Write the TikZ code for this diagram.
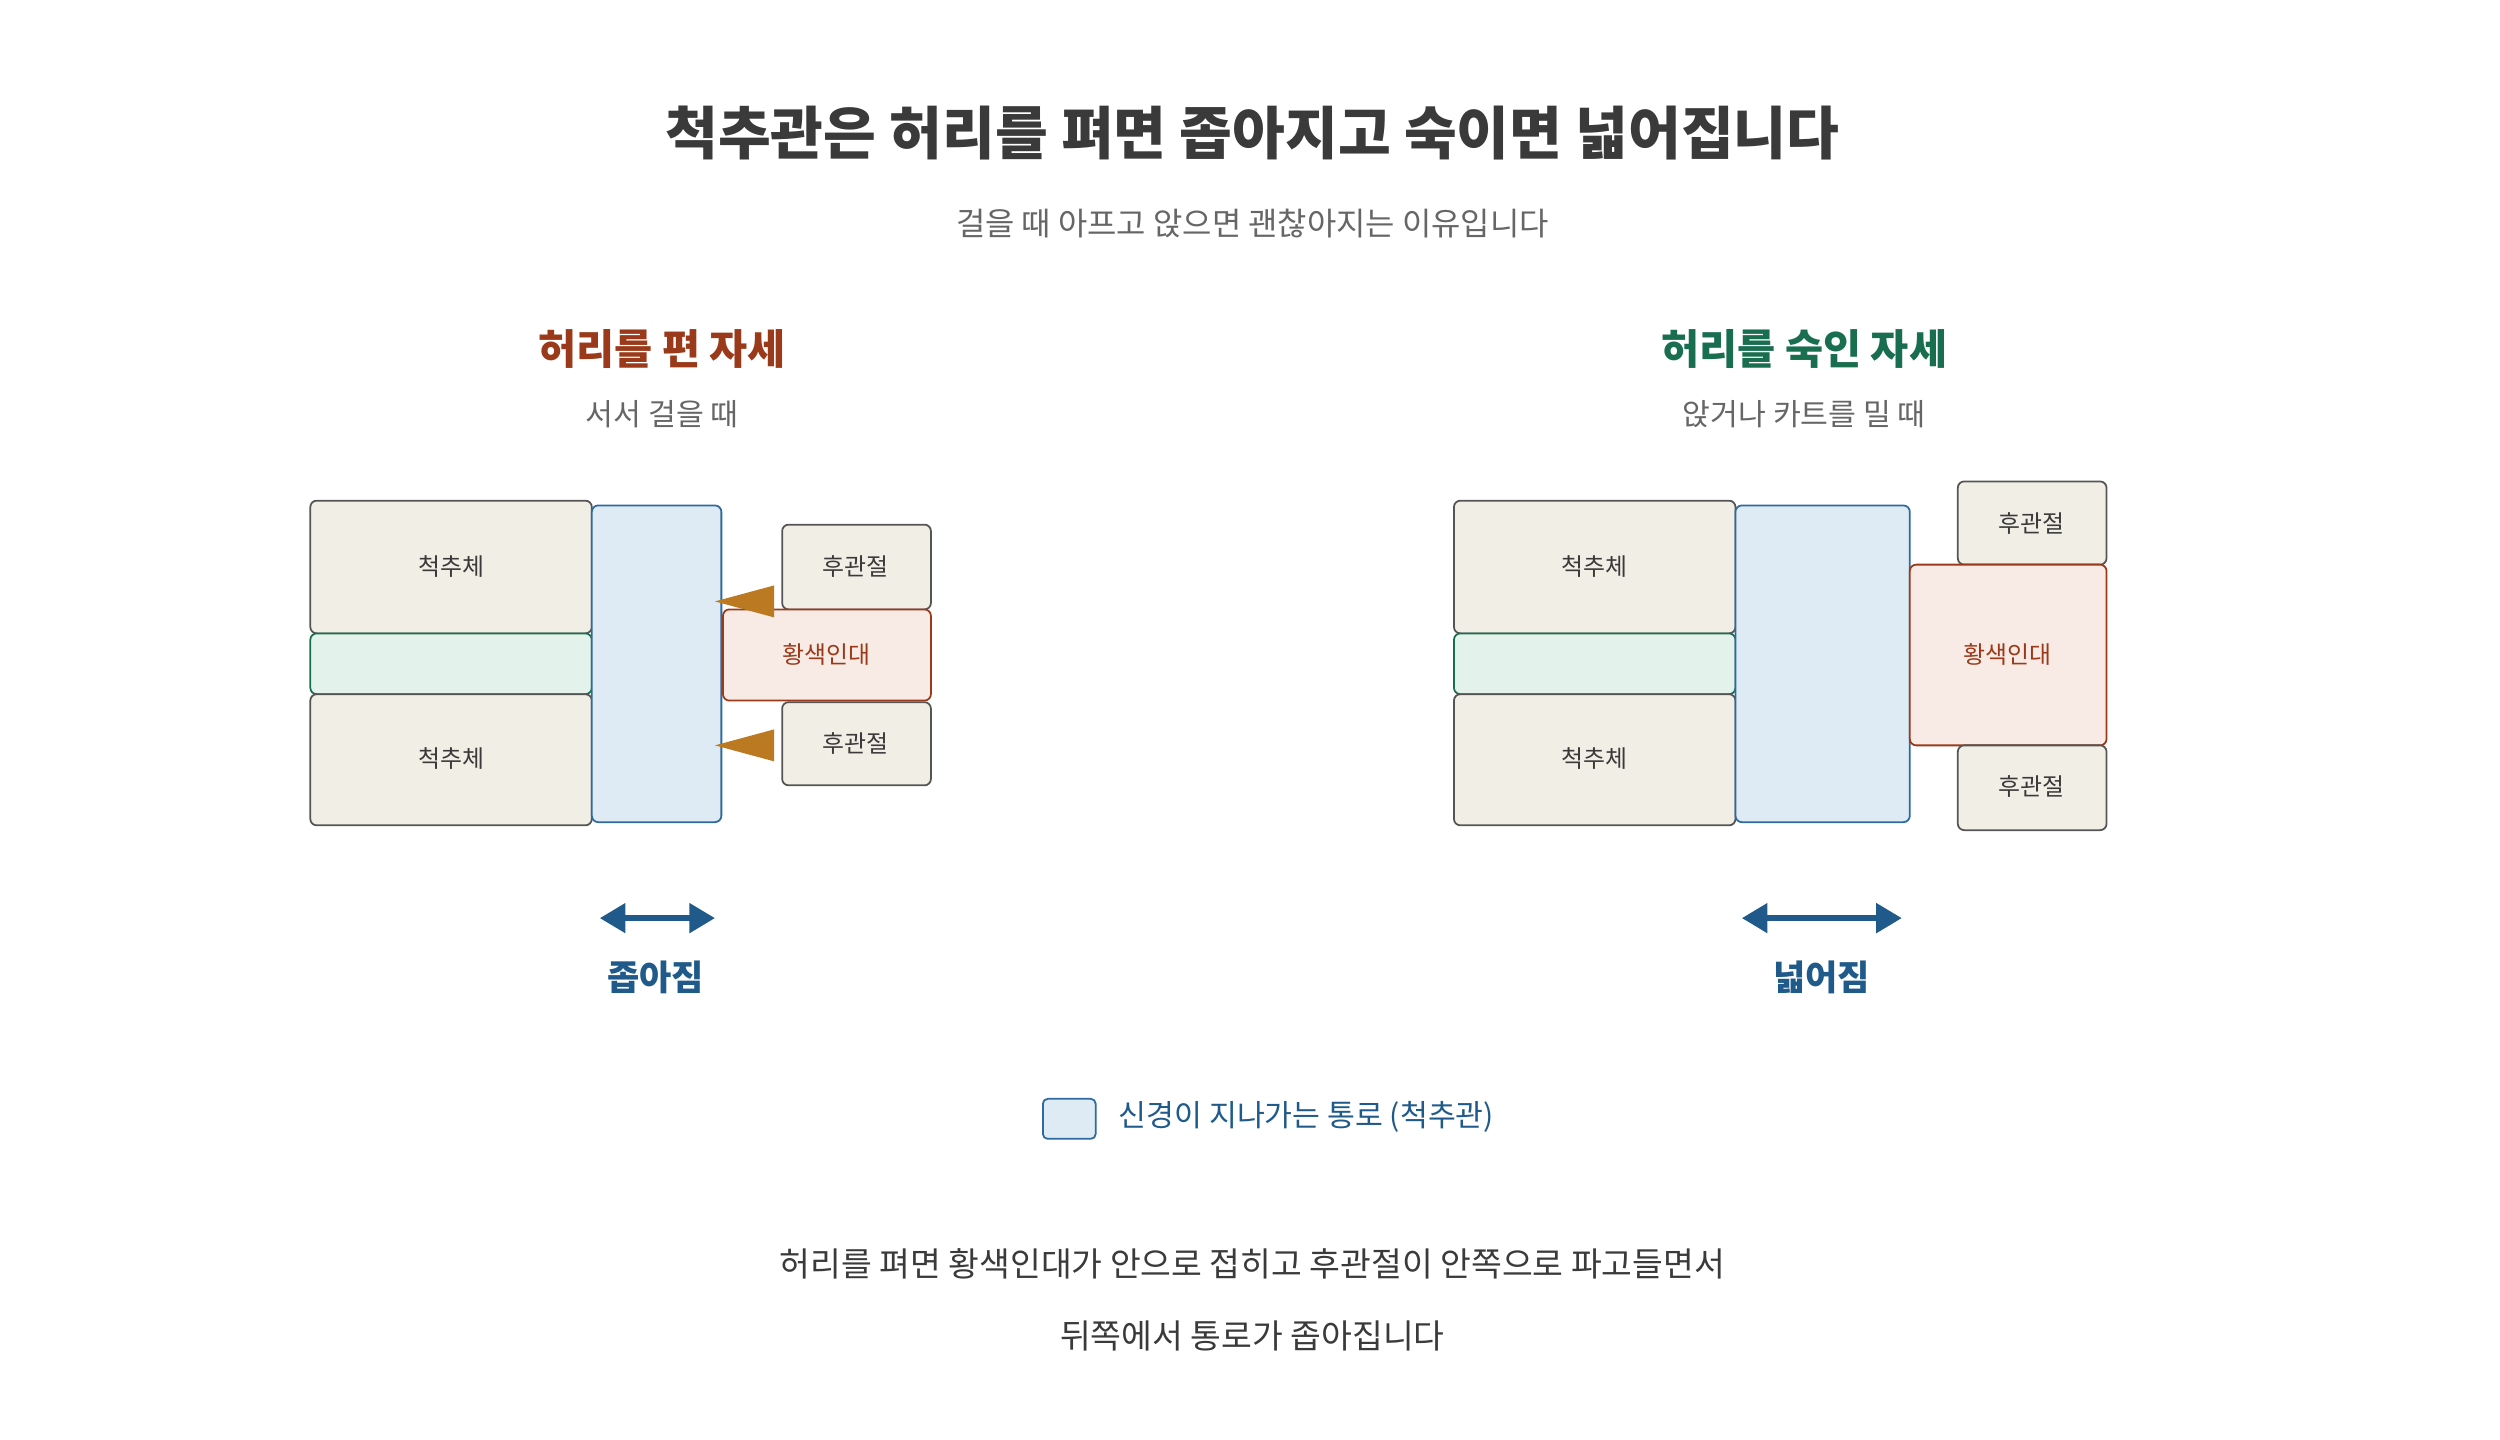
\documentclass[tikz,border=0pt]{standalone}
\usepackage{fontspec}
\setmainfont{Noto Sans CJK KR}
\usetikzlibrary{arrows.meta}
\definecolor{bone}{HTML}{F1EEE6}
\definecolor{boneS}{HTML}{555555}
\definecolor{disc}{HTML}{E3F3EC}
\definecolor{green}{HTML}{1A6E50}
\definecolor{canal}{HTML}{DEEBF5}
\definecolor{canalS}{HTML}{2E6AA0}
\definecolor{lig}{HTML}{F8EBE5}
\definecolor{rust}{HTML}{9A3A1A}
\definecolor{orng}{HTML}{BB7A22}
\definecolor{navy}{HTML}{1F5A8A}
\definecolor{dark}{HTML}{3A3A3A}
\definecolor{gry}{HTML}{666666}
\tikzset{
 box/.style={rounded corners=4bp,line width=1.1bp},
 vert/.style={box,fill=bone,draw=boneS},
 dsc/.style={box,fill=disc,draw=green},
 cnl/.style={box,fill=canal,draw=canalS},
 lg/.style={box,fill=lig,draw=rust},
 lbl/.style={font=\fontsize{15}{18}\selectfont,text=dark},
 head/.style={font=\fontsize{26}{30}\selectfont\bfseries},
 sub/.style={font=\fontsize{19}{22}\selectfont,text=gry},
 dbl/.style={{Triangle[length=16bp,width=18bp]}-{Triangle[length=16bp,width=18bp]},line width=3.5bp,draw=navy},
 wd/.style={font=\fontsize{22}{26}\selectfont\bfseries,text=navy},
 body/.style={font=\fontsize{21}{25}\selectfont\mdseries,text=dark},
}
\begin{document}
\begin{tikzpicture}[x=1bp,y=-1bp]
\useasboundingbox (0,0) rectangle (1563,900);
\node[font=\fontsize{36}{42}\selectfont\bfseries,text=dark] (title) at (783,83) {척추관은 허리를 펴면 좁아지고 숙이면 넓어집니다};
\node[sub,font=\fontsize{20}{24}\selectfont] (subt) at (783,140) {걸을 때 아프고 앉으면 괜찮아지는 이유입니다};
% left
\node[head,text=rust] (lh) at (414,218) {허리를 편 자세};
\node[sub] (ls) at (414,259) {서서 걸을 때};
\draw[vert] (194,313) rectangle (370,396); \node[lbl] (lv1) at (282,354) {척추체};
\draw[dsc] (194,396) rectangle (370,434);
\draw[vert] (194,434) rectangle (370,516); \node[lbl] (lv2) at (282,474) {척추체};
\draw[cnl] (370,316) rectangle (451,514);
\draw[vert] (489,328) rectangle (582,381); \node[lbl] (lf1) at (535,354) {후관절};
\draw[lg] (452,381) rectangle (582,438); \node[lbl,text=rust] (ll) at (517,409) {황색인대};
\draw[vert] (489,439) rectangle (582,491); \node[lbl] (lf2) at (535,465) {후관절};
\fill[orng] (447,376) -- (484,366) -- (484,386) -- cycle;
\fill[orng] (447,466) -- (484,456) -- (484,476) -- cycle;
\coordinate (la1) at (375,574); \coordinate (la2) at (447,574);
\draw[dbl] (la1) -- (la2);
\node[wd] (lw) at (410,611) {좁아짐};
% right
\node[head,text=green] (rh) at (1128,218) {허리를 숙인 자세};
\node[sub] (rs) at (1128,259) {앉거나 카트를 밀 때};
\draw[vert] (909,313) rectangle (1085,396); \node[lbl] (rv1) at (997,354) {척추체};
\draw[dsc] (909,396) rectangle (1085,434);
\draw[vert] (909,434) rectangle (1085,516); \node[lbl] (rv2) at (997,474) {척추체};
\draw[cnl] (1085,316) rectangle (1194,514);
\draw[vert] (1224,301) rectangle (1317,353); \node[lbl] (rf1) at (1270,327) {후관절};
\draw[lg] (1194,353) rectangle (1317,466); \node[lbl,text=rust] (rl) at (1255,409) {황색인대};
\draw[vert] (1224,466) rectangle (1317,519); \node[lbl] (rf2) at (1270,492) {후관절};
\coordinate (ra1) at (1089,574); \coordinate (ra2) at (1189,574);
\draw[dbl] (ra1) -- (ra2);
\node[wd] (rw) at (1139,611) {넓어짐};
% legend
\draw[cnl,rounded corners=3bp] (652,687) rectangle (685,712);
\node[anchor=west,font=\fontsize{19}{22}\selectfont,text=navy] (leg) at (696,698) {신경이 지나가는 통로 (척추관)};
\node[body] (b1) at (783,790) {허리를 펴면 황색인대가 안으로 접히고 후관절이 안쪽으로 파고들면서};
\node[body] (b2) at (783,835) {뒤쪽에서 통로가 좁아집니다};
\end{tikzpicture}
\end{document}
